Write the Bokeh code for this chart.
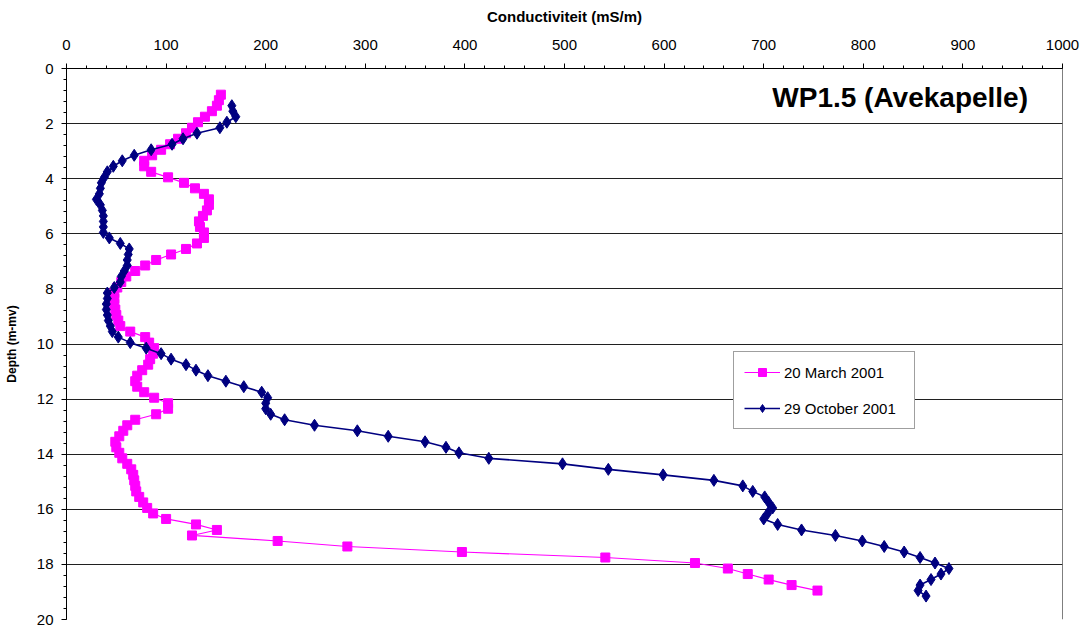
from bokeh.plotting import figure
from bokeh.models import Range1d, SingleIntervalTicker, Span, Label
from bokeh.embed import file_html
from bokeh.resources import INLINE

# ---- data ----
march_depth = [0.95, 1.15, 1.35, 1.55, 1.75, 1.95, 2.15, 2.35, 2.55, 2.75,
               2.95, 3.15, 3.35, 3.55, 3.75, 3.95, 4.15, 4.35, 4.55, 4.75,
               4.95, 5.15, 5.35, 5.55, 5.75, 5.95, 6.15, 6.35, 6.55, 6.75,
               6.95, 7.15, 7.35, 7.55, 7.75, 7.95, 8.15, 8.35, 8.55, 8.75,
               8.95, 9.15, 9.35, 9.55, 9.75, 9.95, 10.15, 10.35, 10.55, 10.75,
               10.95, 11.15, 11.35, 11.55, 11.75, 11.95, 12.15, 12.35, 12.55, 12.75,
               12.95, 13.15, 13.35, 13.55, 13.75, 13.95, 14.15, 14.35, 14.55, 14.75,
               14.95, 15.15, 15.35, 15.55, 15.75, 15.95, 16.15, 16.35, 16.55, 16.75,
               16.95, 17.15, 17.35, 17.55, 17.75, 17.95, 18.15, 18.35, 18.55, 18.75,
               18.95]
march_cond = [155, 153, 151, 146, 139, 132, 126, 120, 112, 104,
              95, 86, 78, 78, 85, 102, 118, 129, 138, 143,
              143, 141, 137, 133, 134, 138, 138, 131, 120, 105,
              90, 79, 69, 60, 55, 51, 48, 48, 48, 49,
              50, 52, 54, 64, 79, 83, 88, 87, 84, 82,
              76, 71, 69, 71, 78, 88, 102, 102, 90, 69,
              61, 57, 53, 49, 50, 53, 56, 61, 65, 67,
              68, 69, 70, 73, 77, 81, 87, 100, 130, 151,
              126, 212, 282, 397, 541, 631, 664, 684, 705, 728,
              754]

oct_depth = [1.35, 1.55, 1.75, 1.95, 2.15, 2.35, 2.55, 2.75, 2.95, 3.15,
             3.35, 3.55, 3.75, 3.95, 4.15, 4.35, 4.55, 4.75, 4.95, 5.15,
             5.35, 5.55, 5.75, 5.95, 6.15, 6.35, 6.55, 6.75, 6.95, 7.15,
             7.35, 7.55, 7.75, 7.95, 8.15, 8.35, 8.55, 8.75, 8.95, 9.15,
             9.35, 9.55, 9.75, 9.95, 10.15, 10.35, 10.55, 10.75, 10.95, 11.15,
             11.35, 11.55, 11.75, 11.95, 12.15, 12.35, 12.55, 12.75, 12.95, 13.15,
             13.35, 13.55, 13.75, 13.95, 14.15, 14.35, 14.55, 14.75, 14.95, 15.15,
             15.35, 15.55, 15.75, 15.95, 16.15, 16.35, 16.55, 16.75, 16.95, 17.15,
             17.35, 17.55, 17.75, 17.95, 18.15, 18.35, 18.55, 18.75, 18.95, 19.15]
oct_cond = [166, 167, 170, 161, 154, 131, 117, 106, 85, 68,
            56, 47, 41, 38, 35, 34, 33, 30, 34, 36,
            37, 37, 37, 37, 43, 54, 63, 62, 61, 61,
            58, 55, 54, 48, 41, 41, 40, 40, 41, 42,
            44, 46, 52, 64, 80, 95, 105, 120, 130, 142,
            160, 178, 196, 202, 200, 200, 205, 219, 249, 292,
            323, 360, 381, 394, 424, 498, 544, 599, 650, 679,
            689, 701, 705, 709, 704, 700, 714, 738, 772, 799,
            821, 841, 857, 872, 886, 878, 868, 857, 855, 863]

series_labels = ["20 March 2001", "29 October 2001"]
title_text = "WP1.5 (Avekapelle)"
x_title = "Conductiviteit (mS/m)"
y_title = "Depth (m-mv)"

FONT = "Liberation Sans"

p = figure(width=1085, height=628,
           x_range=Range1d(0, 1000), y_range=Range1d(20, 0),
           x_axis_location="above",
           output_backend="svg", toolbar_location=None,
           min_border_left=66, min_border_top=68,
           min_border_right=23, min_border_bottom=9)

p.outline_line_color = None
p.background_fill_color = "white"
p.border_fill_color = "white"

# axes
xa = p.xaxis[0]
ya = p.yaxis[0]
xa.ticker = SingleIntervalTicker(interval=100, num_minor_ticks=5)
ya.ticker = SingleIntervalTicker(interval=2, num_minor_ticks=5)
for ax in (xa, ya):
    ax.axis_line_color = "black"
    ax.major_tick_line_color = "black"
    ax.minor_tick_line_color = "black"
    ax.major_tick_out = 5
    ax.major_tick_in = 0
    ax.minor_tick_out = 3
    ax.minor_tick_in = 0
    ax.major_label_text_font = FONT
    ax.major_label_text_font_size = "15px"
    ax.major_label_text_color = "black"
    ax.axis_label_text_font = FONT
    ax.axis_label_text_font_style = "bold"
    ax.axis_label_text_color = "black"
xa.axis_label = x_title
ya.axis_label = y_title
xa.axis_label_text_font_size = "15px"
ya.axis_label_text_font_size = "12px"
xa.major_label_standoff = 14
xa.axis_label_standoff = 12
ya.major_label_standoff = 8
ya.axis_label_standoff = 15

p.xgrid.visible = False
p.ygrid.grid_line_color = "#202020"
p.ygrid.grid_line_width = 1

# right border
p.add_layout(Span(location=1000, dimension="height", line_color="black", line_width=1))

# series
p.line(march_cond, march_depth, line_color="#FF00FF", line_width=1.2,
       legend_label=series_labels[0])
p.scatter(march_cond, march_depth, marker="square", size=9,
          fill_color="#FF00FF", line_color="#FF00FF",
          legend_label=series_labels[0])
p.line(oct_cond, oct_depth, line_color="#000080", line_width=1.6,
       legend_label=series_labels[1])
p.scatter(oct_cond, oct_depth, marker="diamond", size=12,
          fill_color="#000080", line_color="#000080",
          legend_label=series_labels[1])

# title inside plot
p.add_layout(Label(x=837, y=1.05, text=title_text, text_align="center",
                   text_baseline="middle", text_font=FONT,
                   text_font_style="bold", text_font_size="28px",
                   text_color="black"))

# legend
lg = p.legend[0]
lg.location = (667, 190)
lg.label_text_font = FONT
lg.label_text_font_size = "15px"
lg.label_text_color = "black"
lg.border_line_color = "#404040"
lg.border_line_width = 1
lg.background_fill_alpha = 1
lg.padding = 10
lg.spacing = 16
lg.glyph_width = 36
lg.glyph_height = 20
lg.label_height = 20
lg.label_width = 120
lg.label_standoff = 4
lg.margin = 0

open("out.html", "w").write(file_html(p, INLINE))
